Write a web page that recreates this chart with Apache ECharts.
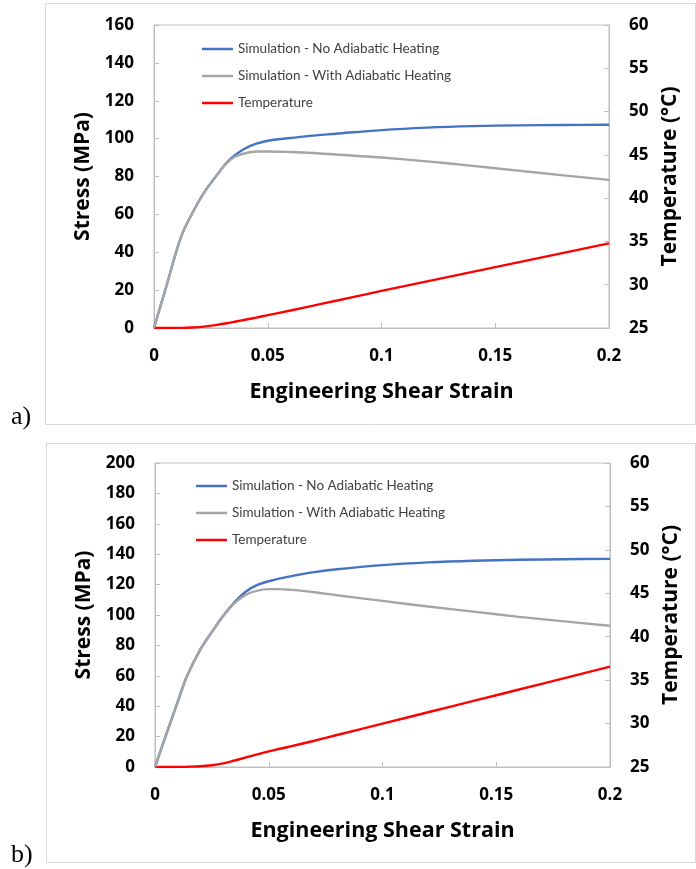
<!DOCTYPE html>
<html>
<head>
<meta charset="utf-8">
<script src="https://cdn.jsdelivr.net/npm/echarts@6/dist/echarts.min.js"></script>
<style>
html,body{margin:0;padding:0;background:#fff;}
#chart{width:696px;height:869px;}
</style>
</head>
<body>
<div id="chart"></div>
<script>
// ---- Data: panel a ----
const strainA = [0, 0.005, 0.012, 0.017, 0.022, 0.027, 0.032, 0.036, 0.04, 0.045, 0.05, 0.06, 0.07, 0.08, 0.1, 0.12, 0.14, 0.16, 0.18, 0.2];
const stressNoAdiabaticA = [0, 20.3, 48.5, 61, 71.5, 79.7, 87.4, 91.6, 94.8, 97.3, 98.9, 100.3, 101.6, 102.6, 104.5, 105.8, 106.6, 107.0, 107.2, 107.3];
const stressAdiabaticA = [0, 20.3, 48.5, 61, 71.5, 79.7, 87.2, 90.7, 92.3, 93.2, 93.2, 92.9, 92.4, 91.6, 90.0, 88.0, 85.6, 83.1, 80.6, 78.2];
const temperatureA = [25, 25, 25.01, 25.06, 25.16, 25.33, 25.55, 25.75, 25.95, 26.2, 26.48, 27.02, 27.58, 28.15, 29.28, 30.38, 31.48, 32.58, 33.68, 34.78];

// ---- Data: panel b ----
const strainB = [0, 0.005, 0.01, 0.014, 0.02, 0.025, 0.03, 0.035, 0.04, 0.045, 0.05, 0.055, 0.06, 0.07, 0.08, 0.1, 0.12, 0.14, 0.16, 0.18, 0.2];
const stressNoAdiabaticB = [0, 21.7, 43, 59.5, 77.5, 88.8, 99.5, 108.5, 115.5, 119.8, 122.2, 124.1, 125.6, 128.2, 130.1, 132.8, 134.6, 135.7, 136.3, 136.7, 136.9];
const stressAdiabaticB = [0, 21.7, 43, 59.5, 77.5, 88.8, 99.3, 107.8, 113.4, 116.0, 117.0, 117.0, 116.5, 115.0, 113.0, 109.3, 105.6, 102.2, 98.8, 95.8, 92.9];
const temperatureB = [25, 25, 25.01, 25.03, 25.08, 25.2, 25.42, 25.75, 26.1, 26.45, 26.8, 27.1, 27.4, 28.02, 28.68, 29.99, 31.3, 32.61, 33.92, 35.24, 36.55];

// ---- Axis settings ----
const strainTicks = {min: 0, max: 0.2, interval: 0.05};
const stressTicksA = {min: 0, max: 160, interval: 20};
const stressTicksB = {min: 0, max: 200, interval: 20};
const tempTicks = {min: 25, max: 60, interval: 5};

const seriesNames = ['Simulation - No Adiabatic Heating', 'Simulation - With Adiabatic Heating', 'Temperature'];
const colors = ['#4472C4', '#A5A5A5', '#FF0000'];
const panelLabels = ['a)', 'b)'];

const zip = (xs, ys) => xs.map((x, i) => [x, ys[i]]);

const FONT = '"Open Sans"';
const LEGEND_FONT = 'Lato';
const axisGray = '#BFBFBF';

function xAxisCfg(gridIndex) {
  return {
    type: 'value', gridIndex, ...strainTicks,
    name: 'Engineering Shear Strain', nameLocation: 'middle', nameGap: 53,
    nameTextStyle: {fontFamily: FONT, fontWeight: 'bold', fontSize: 21.5, color: '#000'},
    axisLine: {show: true, lineStyle: {color: axisGray, width: 1}},
    axisTick: {show: true, inside: true, length: 5, lineStyle: {color: axisGray}},
    axisLabel: {fontFamily: FONT, fontWeight: 'bold', fontSize: 17, color: '#000', margin: 20,
      formatter: v => String(+v.toFixed(2))},
    splitLine: {show: false}
  };
}
function yAxisCfg(gridIndex, ticks, name, position, gap) {
  return {
    type: 'value', gridIndex, position, ...ticks,
    name, nameLocation: 'middle', nameGap: gap,
    nameTextStyle: {fontFamily: FONT, fontWeight: 'bold', fontSize: 21, color: '#000'},
    axisLine: {show: true, lineStyle: {color: axisGray, width: 1}},
    axisTick: {show: true, inside: true, length: 5, lineStyle: {color: axisGray}},
    axisLabel: {fontFamily: FONT, fontWeight: 'bold', fontSize: 17, color: '#000', margin: 20},
    splitLine: {show: false}
  };
}
function lineSeries(name, color, xi, yi, data) {
  return {
    name, type: 'line', xAxisIndex: xi, yAxisIndex: yi, data,
    smooth: 0.35, symbol: 'none', showSymbol: false,
    lineStyle: {color, width: 2.4}, itemStyle: {color},
    z: name === 'Temperature' ? 3 : (name.indexOf('No') >= 0 ? 2 : 4)
  };
}
function legendCfg(left, top) {
  return {
    orient: 'vertical', left, top, padding: 0,
    itemWidth: 31, itemHeight: 14, itemGap: 13,
    icon: 'path://M0,6 L31,6 L31,8.5 L0,8.5 Z',
    textStyle: {fontFamily: LEGEND_FONT, fontSize: 13.5, color: '#404040'},
    data: seriesNames.map((n, i) => ({name: n, itemStyle: {color: colors[i]}}))
  };
}

const chart = echarts.init(document.getElementById('chart'), null, {renderer: 'canvas'});
const option = {
  backgroundColor: '#fff',
  animation: false,
  grid: [
    {left: 154, top: 25, width: 455, height: 303, show: true, borderColor: axisGray, borderWidth: 1, containLabel: false},
    {left: 155, top: 463, width: 455, height: 304, show: true, borderColor: axisGray, borderWidth: 1, containLabel: false}
  ],
  legend: [legendCfg(202, 42), legendCfg(196, 479)],
  xAxis: [xAxisCfg(0), xAxisCfg(1)],
  yAxis: [
    yAxisCfg(0, stressTicksA, 'Stress (MPa)', 'left', 58),
    yAxisCfg(0, tempTicks, 'Temperature (°C)', 'right', 49),
    yAxisCfg(1, stressTicksB, 'Stress (MPa)', 'left', 58),
    yAxisCfg(1, tempTicks, 'Temperature (°C)', 'right', 49)
  ],
  series: [
    lineSeries(seriesNames[0], colors[0], 0, 0, zip(strainA, stressNoAdiabaticA)),
    lineSeries(seriesNames[1], colors[1], 0, 0, zip(strainA, stressAdiabaticA)),
    lineSeries(seriesNames[2], colors[2], 0, 1, zip(strainA, temperatureA)),
    lineSeries(seriesNames[0], colors[0], 1, 2, zip(strainB, stressNoAdiabaticB)),
    lineSeries(seriesNames[1], colors[1], 1, 2, zip(strainB, stressAdiabaticB)),
    lineSeries(seriesNames[2], colors[2], 1, 3, zip(strainB, temperatureB))
  ],
  graphic: [
    {type: 'rect', shape: {x: 45.5, y: 3.5, width: 650, height: 421}, style: {fill: 'none', stroke: '#D9D9D9', lineWidth: 1}, z: -1},
    {type: 'rect', shape: {x: 46.5, y: 443.5, width: 649, height: 419}, style: {fill: 'none', stroke: '#D9D9D9', lineWidth: 1}, z: -1},
    {type: 'text', left: 11, top: 404, style: {text: panelLabels[0], font: '26px "Liberation Serif"', fill: '#000'}},
    {type: 'text', left: 11, top: 842, style: {text: panelLabels[1], font: '26px "Liberation Serif"', fill: '#000'}}
  ]
};
chart.setOption(option);
</script>
</body>
</html>
